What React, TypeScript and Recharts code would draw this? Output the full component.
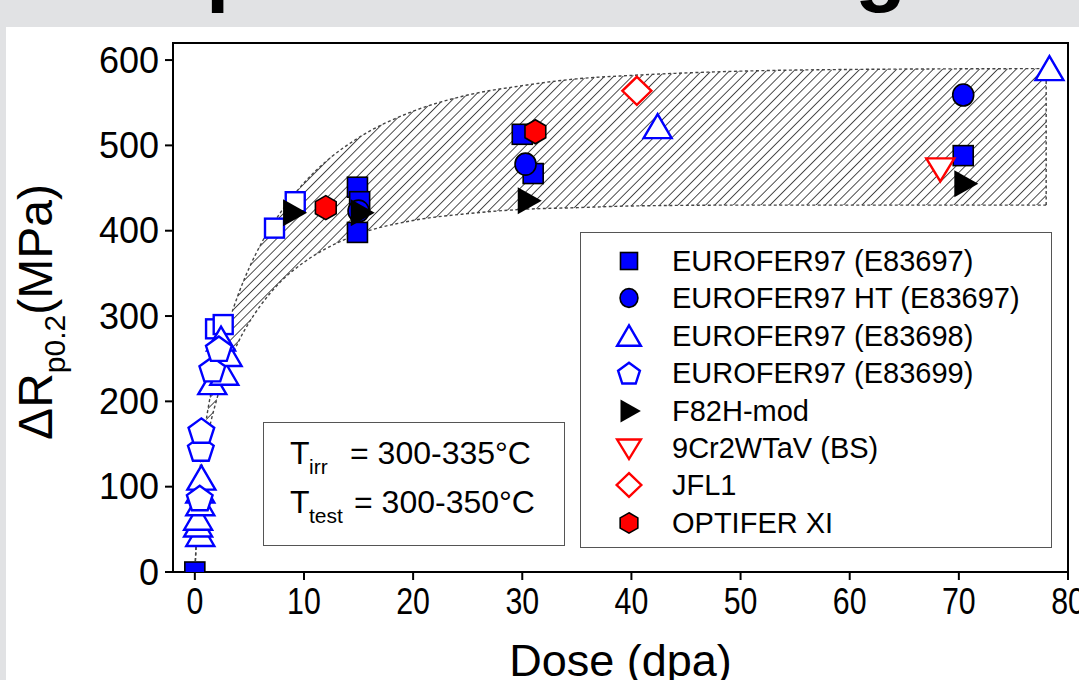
import React from "react";
import {
  ComposedChart,
  Area,
  Scatter,
  XAxis,
  YAxis,
  ReferenceLine,
  ReferenceArea,
  Legend,
} from "recharts";

// hatched scatter band (dose in dpa, hardening in MPa)
const bandDose = [0, 0.5, 1, 2, 3, 4, 5, 6, 8, 10, 12, 15, 20, 25, 30, 35, 40, 50, 60, 78];
const bandLow = [0, 106, 147, 202, 240, 270, 293, 312, 342, 363, 379, 396, 412, 420, 425, 427, 429, 430, 430, 430];
const bandHigh = [0, 124, 174, 241, 288, 326, 357, 383, 424, 456, 481, 509, 540, 559, 570, 578, 582, 587, 589, 590];

// measured points [dose, dRp0.2]
const openSquares = [[1.9, 285], [2.6, 290], [7.3, 403], [9.2, 434]];
const e83697 = [[0, 0], [14.9, 451], [15.1, 434], [14.9, 398], [30, 513], [31, 467], [70.4, 488]];
const e83697ht = [[15, 423], [30.3, 478], [70.4, 559]];
const e83698 = [
  [0.5, 44], [0.3, 55], [0.3, 63], [0.5, 80], [0.5, 95], [0.6, 110],
  [1.6, 222], [2.7, 233], [3.0, 255], [2.4, 273], [42.4, 522], [78.3, 590],
];
const e83699 = [[0.45, 87], [0.55, 145], [0.6, 166], [1.6, 238], [2.2, 262]];
const f82h = [[9, 421], [15.2, 421], [30.5, 435], [70.5, 455]];
const cr9 = [[68.3, 473]];
const jfl1 = [[40.5, 564]];
const optifer = [[12, 427], [31.2, 516]];

const xTicks = [0, 10, 20, 30, 40, 50, 60, 70, 80];
const yTicks = [0, 100, 200, 300, 400, 500, 600];

const BLUE = "#0000ff";
const RED = "#ff0000";
const FONT = '"Liberation Sans", Arial, sans-serif';

type Kind =
  | "square"
  | "openSquare"
  | "circle"
  | "triangle"
  | "pentagon"
  | "rightTri"
  | "downTri"
  | "diamond"
  | "hexagon";

const pts = (arr: number[][]) => arr.map((p) => `${p[0]},${p[1]}`).join(" ");

function Marker({ kind, cx, cy, s = 1 }: { kind: Kind; cx: number; cy: number; s?: number }) {
  switch (kind) {
    case "square":
      return <rect x={cx - 10 * s} y={cy - 10 * s} width={20 * s} height={20 * s} fill={BLUE} stroke="#000" strokeWidth={1.6} />;
    case "openSquare":
      return <rect x={cx - 9.5 * s} y={cy - 9.5 * s} width={19 * s} height={19 * s} fill="#fff" stroke={BLUE} strokeWidth={2.4} />;
    case "circle":
      return <ellipse cx={cx} cy={cy} rx={10.5 * s} ry={11 * s} fill={BLUE} stroke="#000" strokeWidth={1.6} />;
    case "triangle":
      return (
        <polygon
          points={pts([[cx, cy - 12.5 * s], [cx + 14 * s, cy + 11.5 * s], [cx - 14 * s, cy + 11.5 * s]])}
          fill="#fff"
          stroke={BLUE}
          strokeWidth={2.4}
        />
      );
    case "pentagon": {
      const r = 13.5 * s;
      const v = [0, 1, 2, 3, 4].map((i) => {
        const a = -Math.PI / 2 + (i * 2 * Math.PI) / 5;
        return [cx + r * Math.cos(a), cy + 1.5 * s + r * Math.sin(a)];
      });
      return <polygon points={pts(v)} fill="#fff" stroke={BLUE} strokeWidth={2.4} />;
    }
    case "rightTri":
      return <polygon points={pts([[cx - 10 * s, cy - 13.5 * s], [cx + 14 * s, cy], [cx - 10 * s, cy + 13.5 * s]])} fill="#000" />;
    case "downTri":
      return (
        <polygon
          points={pts([[cx - 14 * s, cy - 10 * s], [cx + 14 * s, cy - 10 * s], [cx, cy + 13 * s]])}
          fill="#fff"
          stroke={RED}
          strokeWidth={2.4}
        />
      );
    case "diamond":
      return (
        <polygon
          points={pts([[cx, cy - 14 * s], [cx + 14.5 * s, cy], [cx, cy + 14 * s], [cx - 14.5 * s, cy]])}
          fill="#fff"
          stroke={RED}
          strokeWidth={2.4}
        />
      );
    case "hexagon": {
      const r = 12 * s;
      const v = [0, 1, 2, 3, 4, 5].map((i) => {
        const a = -Math.PI / 2 + (i * Math.PI) / 3;
        return [cx + r * Math.cos(a), cy + r * Math.sin(a)];
      });
      return <polygon points={pts(v)} fill={RED} stroke="#000" strokeWidth={1.6} />;
    }
  }
  return null;
}

// draw order = layering in the figure
const series: { name: string; kind: Kind; data: number[][]; inLegend: boolean }[] = [
  { name: "open", kind: "openSquare", data: openSquares, inLegend: false },
  { name: "EUROFER97 (E83697)", kind: "square", data: e83697, inLegend: true },
  { name: "EUROFER97 HT (E83697)", kind: "circle", data: e83697ht, inLegend: true },
  { name: "EUROFER97 (E83698)", kind: "triangle", data: e83698, inLegend: true },
  { name: "EUROFER97 (E83699)", kind: "pentagon", data: e83699, inLegend: true },
  { name: "F82H-mod", kind: "rightTri", data: f82h, inLegend: true },
  { name: "9Cr2WTaV (BS)", kind: "downTri", data: cr9, inLegend: true },
  { name: "JFL1", kind: "diamond", data: jfl1, inLegend: true },
  { name: "OPTIFER XI", kind: "hexagon", data: optifer, inLegend: true },
];

const bandData = bandDose.map((d, i) => ({ dose: d, band: [bandLow[i], bandHigh[i]] }));

function LegendBox() {
  const rows = series.filter((s) => s.inLegend);
  return (
    <div
      style={{
        position: "relative",
        width: 472,
        height: 316,
        boxSizing: "border-box",
        border: "1.5px solid #555",
        background: "#fff",
        fontFamily: FONT,
      }}
    >
      {rows.map((s, i) => (
        <div key={s.name} style={{ position: "absolute", left: 0, top: 28 + i * 37.4 - 18, height: 36, width: 470 }}>
          <svg width={40} height={36} style={{ position: "absolute", left: 28, top: 0 }}>
            <Marker kind={s.kind} cx={20} cy={18} s={0.85} />
          </svg>
          <span
            style={{
              position: "absolute",
              left: 91,
              top: 0,
              lineHeight: "36px",
              fontSize: 29,
              color: "#000",
              whiteSpace: "nowrap",
            }}
          >
            {s.name}
          </span>
        </div>
      ))}
    </div>
  );
}

const renderYLabel = () => (
  <text x={0} y={0} transform="translate(52,312) rotate(-90)" textAnchor="middle" fontFamily={FONT} fontSize={48} fill="#000">
    ΔR
    <tspan fontSize={30} dy={13}>p0.2</tspan>
    <tspan dy={-13}>(MPa)</tspan>
  </text>
);

const XTick = (props: any) => (
  <g transform={`translate(${props.x},${props.y})`}>
    <text x={0} y={0} dy={28} transform="scale(0.82,1)" textAnchor="middle" fontFamily={FONT} fontSize={37} fill="#000">
      {props.payload.value}
    </text>
  </g>
);

export default function App() {
  return (
    <div style={{ position: "relative", width: 1079, height: 680, background: "#e1e2e4", overflow: "hidden" }}>
      <style>{"body{margin:0}"}</style>
      <svg width={1079} height={27} style={{ position: "absolute", left: 0, top: 0 }}>
        <text x={206} y={-4} fontSize={84} fontWeight="bold" fontFamily={FONT} fill="#000">p</text>
        <text x={855} y={-4} fontSize={84} fontWeight="bold" fontFamily={FONT} fill="#000">g</text>
      </svg>
      <div style={{ position: "absolute", left: 6, top: 27, width: 1073, height: 653, background: "#fff" }} />
      <div style={{ position: "absolute", left: 0, top: 0 }}>
        <ComposedChart width={1079} height={680} data={bandData} margin={{ top: 43, right: 11, bottom: 48, left: 93 }}>
          <defs>
            <pattern id="hatch" patternUnits="userSpaceOnUse" width={6.5} height={6.5} patternTransform="rotate(45)">
              <line x1={0} y1={0} x2={0} y2={6.5} stroke="#222" strokeWidth={1.6} />
            </pattern>
          </defs>
          <XAxis
            dataKey="dose"
            type="number"
            domain={[-2, 80]}
            ticks={xTicks}
            allowDataOverflow
            stroke="#000"
            strokeWidth={2}
            tickSize={8}
            tickMargin={6}
            height={60}
            tick={<XTick />}
            label={{ value: "Dose (dpa)", position: "insideBottom", offset: -44, fill: "#000", fontSize: 45, fontFamily: FONT }}
          />
          <YAxis
            type="number"
            domain={[0, 620]}
            ticks={yTicks}
            allowDataOverflow
            width={80}
            stroke="#000"
            strokeWidth={2}
            tickSize={8}
            tickMargin={6}
            tick={{ fill: "#000", fontSize: 36, fontFamily: FONT }}
            label={renderYLabel}
          />
          <Area
            dataKey="band"
            type="monotone"
            fill="url(#hatch)"
            fillOpacity={1}
            stroke="#444"
            strokeWidth={1.4}
            strokeDasharray="3 2.5"
            isAnimationActive={false}
            legendType="none"
          />
          <ReferenceLine
            segment={[{ x: 78, y: bandLow[bandLow.length - 1] }, { x: 78, y: bandHigh[bandHigh.length - 1] }]}
            stroke="#444"
            strokeWidth={1.4}
            strokeDasharray="3 2.5"
          />
          <ReferenceArea x1={-2} x2={80} y1={0} y2={620} fill="none" fillOpacity={0} stroke="#000" strokeWidth={2} />
          {series.map((s) => (
            <Scatter
              key={s.name}
              name={s.name}
              data={s.data.map((p) => ({ dose: p[0], mpa: p[1] }))}
              dataKey="mpa"
              isAnimationActive={false}
              shape={(p: any) => <Marker kind={s.kind} cx={p.cx} cy={p.cy} />}
            />
          ))}
          <Legend
            layout="horizontal"
            verticalAlign="middle"
            align="center"
            wrapperStyle={{ left: 580, top: 232, width: 472, height: 316 }}
            content={() => <LegendBox />}
          />
        </ComposedChart>
      </div>
      <div
        style={{
          position: "absolute",
          left: 263,
          top: 422,
          width: 302,
          height: 124,
          boxSizing: "border-box",
          border: "1.5px solid #555",
          background: "#fff",
          fontFamily: FONT,
          fontSize: 32,
          color: "#000",
          whiteSpace: "nowrap",
        }}
      >
        <span style={{ position: "absolute", left: 26, top: 12 }}>T</span>
        <span style={{ position: "absolute", left: 45, top: 32, fontSize: 21 }}>irr</span>
        <span style={{ position: "absolute", left: 86, top: 12 }}>= 300-335°C</span>
        <span style={{ position: "absolute", left: 26, top: 61 }}>T</span>
        <span style={{ position: "absolute", left: 45, top: 81, fontSize: 21 }}>test</span>
        <span style={{ position: "absolute", left: 90, top: 61 }}>= 300-350°C</span>
      </div>
    </div>
  );
}
